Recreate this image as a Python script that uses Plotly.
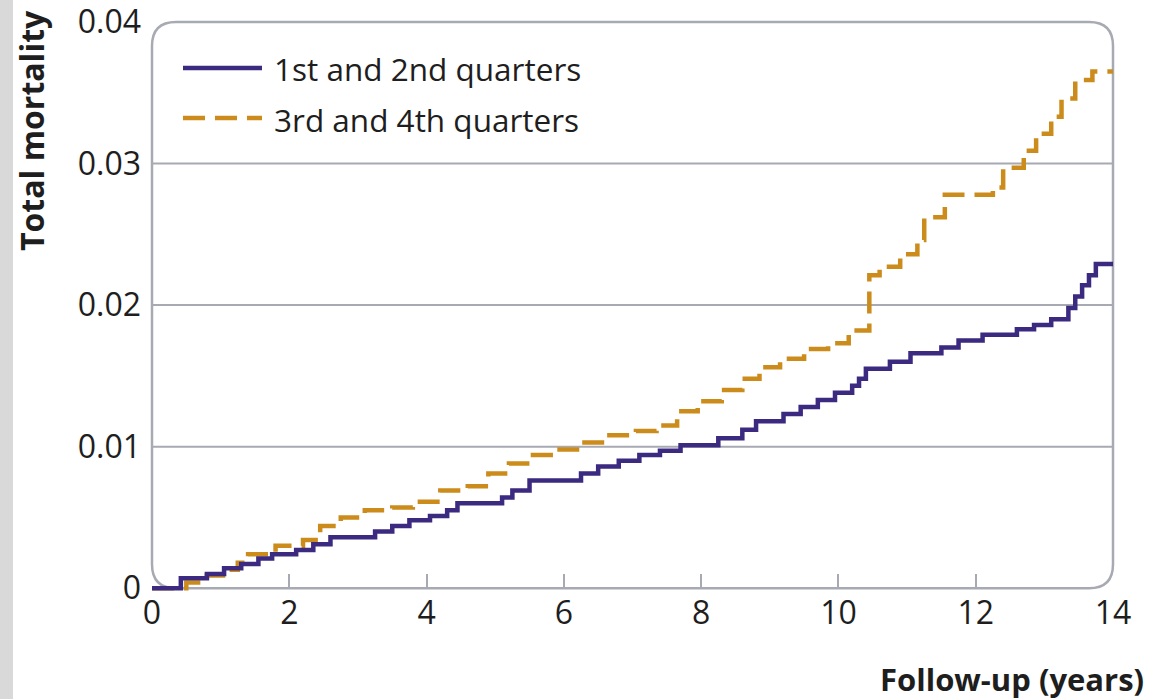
import plotly.graph_objects as go

# ---- data ----
years_q12 = [0, 0.42, 0.8, 1.05, 1.3, 1.55, 1.75, 2.1, 2.35, 2.6,
             3.25, 3.5, 3.75, 4.05, 4.3, 4.45, 5.1, 5.25, 5.5, 6.25,
             6.5, 6.8, 7.1, 7.4, 7.7, 8.25, 8.6, 8.8, 9.2, 9.45,
             9.7, 9.95, 10.2, 10.3, 10.4, 10.75, 11.05, 11.5, 11.75, 12.1,
             12.6, 12.85, 13.1, 13.35, 13.45, 13.55, 13.65, 13.75, 14]
mort_q12 = [0, 0.0007, 0.0010, 0.0014, 0.0017, 0.0021, 0.0024, 0.0027, 0.0031, 0.0036,
            0.0040, 0.0044, 0.0048, 0.0051, 0.0055, 0.0060, 0.0064, 0.0069, 0.0076, 0.0081,
            0.0086, 0.0090, 0.0094, 0.0097, 0.0101, 0.0106, 0.0112, 0.0118, 0.0123, 0.0128,
            0.0133, 0.0138, 0.0143, 0.0148, 0.0155, 0.0160, 0.0166, 0.0170, 0.0175, 0.0179,
            0.0183, 0.0186, 0.0190, 0.0198, 0.0206, 0.0214, 0.0221, 0.0229, 0.0229]

years_q34 = [0, 0.5, 0.8, 1.1, 1.25, 1.4, 1.8, 2.2, 2.45, 2.75,
             3.1, 3.5, 3.8, 4.2, 4.6, 4.9, 5.2, 5.55, 5.9, 6.25,
             6.6, 7.05, 7.35, 7.65, 7.95, 8.3, 8.6, 8.85, 9.15, 9.5,
             9.85, 10.15, 10.45, 10.6, 10.9, 11.15, 11.25, 11.55, 12.25, 12.4,
             12.7, 12.88, 13.1, 13.25, 13.45, 13.7, 14]
mort_q34 = [0, 0.0004, 0.0009, 0.0013, 0.0018, 0.0024, 0.0030, 0.0034, 0.0044, 0.0050,
            0.0055, 0.0057, 0.0061, 0.0069, 0.0072, 0.0081, 0.0088, 0.0094, 0.0098, 0.0103,
            0.0108, 0.0111, 0.0115, 0.0125, 0.0132, 0.0140, 0.0148, 0.0156, 0.0162, 0.0169,
            0.0173, 0.0182, 0.0221, 0.0227, 0.0236, 0.0246, 0.0262, 0.0278, 0.0283, 0.0297,
            0.0309, 0.0321, 0.0333, 0.0346, 0.0359, 0.0365, 0.0365]

series_names = ["1st and 2nd quarters", "3rd and 4th quarters"]
x_tickvals = [0, 2, 4, 6, 8, 10, 12, 14]
x_ticktext = ["0", "2", "4", "6", "8", "10", "12", "14"]
y_tickvals = [0, 0.01, 0.02, 0.03, 0.04]
y_ticktext = ["0", "0.01", "0.02", "0.03", "0.04"]
grid_vals = [0.01, 0.02, 0.03]
x_title = "Follow-up (years)"
y_title = "Total mortality"

# ---- style ----
PURPLE = "#3b2a80"
GOLD = "#cc8c1c"
FRAME = "#a8aab3"
TEXT = "#1e1e1e"
FONT = "Open Sans"
TICK_SIZE = 32
LEG_SIZE = 31.5

W, H = 1155, 699
ML, MR, MT, MB = 152, 42, 22, 108
PW, PH = W - ML - MR, H - MT - MB
XR = [0, 14]
YR = [-0.0002, 0.04]


def px_to_paper_x(px):
    return (px - ML) / PW


def px_to_paper_y(py):
    return (H - MB - py) / PH


def val_to_paper_y(v):
    return (v - YR[0]) / (YR[1] - YR[0])


fig = go.Figure()
fig.add_trace(go.Scatter(x=years_q34, y=mort_q34, mode="lines", name=series_names[1],
                         line=dict(shape="hv", color=GOLD, width=4.5, dash="22px,10px"),
                         xaxis="x", yaxis="y", showlegend=False))
fig.add_trace(go.Scatter(x=years_q12, y=mort_q12, mode="lines", name=series_names[0],
                         line=dict(shape="hv", color=PURPLE, width=4.5),
                         xaxis="x2", yaxis="y", showlegend=False))

# rounded frame (paper coords)
r = 24
rx, ry = r / PW, r / PH
y0p, y1p = val_to_paper_y(0), val_to_paper_y(0.04)
path = (f"M {rx},{y0p} L {1-rx},{y0p} Q 1,{y0p} 1,{y0p+ry} L 1,{y1p-ry} "
        f"Q 1,{y1p} {1-rx},{y1p} L {rx},{y1p} Q 0,{y1p} 0,{y1p-ry} "
        f"L 0,{y0p+ry} Q 0,{y0p} {rx},{y0p} Z")
shapes = [
    dict(type="rect", xref="paper", yref="paper",
         x0=px_to_paper_x(0), x1=px_to_paper_x(13),
         y0=px_to_paper_y(H), y1=px_to_paper_y(0),
         fillcolor="#d9d9d9", line=dict(width=0), layer="below"),
    dict(type="path", path=path, xref="paper", yref="paper",
         line=dict(color=FRAME, width=2.5), layer="below"),
]
for g in grid_vals:
    shapes.append(dict(type="line", xref="paper", yref="y", x0=0, x1=1, y0=g, y1=g,
                       line=dict(color=FRAME, width=2), layer="below"))

# legend samples
leg_y = [68, 118]
shapes.append(dict(type="line", xref="paper", yref="paper",
                   x0=px_to_paper_x(183), x1=px_to_paper_x(262),
                   y0=px_to_paper_y(leg_y[0]), y1=px_to_paper_y(leg_y[0]),
                   line=dict(color=PURPLE, width=4.5)))
shapes.append(dict(type="line", xref="paper", yref="paper",
                   x0=px_to_paper_x(183), x1=px_to_paper_x(262),
                   y0=px_to_paper_y(leg_y[1]), y1=px_to_paper_y(leg_y[1]),
                   line=dict(color=GOLD, width=4.5, dash="22px,10px")))

annotations = [
    dict(text=series_names[0], xref="paper", yref="paper",
         x=px_to_paper_x(272), y=px_to_paper_y(leg_y[0] + 1), xanchor="left", yanchor="middle",
         showarrow=False, font=dict(family=FONT, size=LEG_SIZE, color=TEXT)),
    dict(text=series_names[1], xref="paper", yref="paper",
         x=px_to_paper_x(272), y=px_to_paper_y(leg_y[1] + 1), xanchor="left", yanchor="middle",
         showarrow=False, font=dict(family=FONT, size=LEG_SIZE, color=TEXT)),
    dict(text=f"<b>{y_title}</b>", xref="paper", yref="paper", textangle=-90,
         x=px_to_paper_x(32), y=px_to_paper_y(131), xanchor="center", yanchor="middle",
         showarrow=False, font=dict(family=FONT, size=32, color=TEXT)),
    dict(text=f"<b>{x_title}</b>", xref="paper", yref="paper",
         x=px_to_paper_x(1146), y=px_to_paper_y(679), xanchor="right", yanchor="middle",
         showarrow=False, font=dict(family=FONT, size=31, color=TEXT)),
]

fig.update_layout(
    width=W, height=H,
    margin=dict(l=ML, r=MR, t=MT, b=MB, pad=0, autoexpand=False),
    paper_bgcolor="white", plot_bgcolor="white",
    showlegend=False,
    font=dict(family=FONT, color=TEXT),
    xaxis=dict(range=XR, tickvals=x_tickvals, ticktext=x_ticktext, ticks="",
               showgrid=False, zeroline=False, showline=False, automargin=False,
               ticklabeloverflow="allow",
               tickfont=dict(family=FONT, size=TICK_SIZE, color=TEXT)),
    xaxis2=dict(matches="x", overlaying="x", anchor="free", position=val_to_paper_y(0),
                side="bottom", tickvals=x_tickvals[1:-1], ticks="inside", ticklen=14,
                tickwidth=2, tickcolor=FRAME, showticklabels=False, automargin=False,
                showgrid=False, zeroline=False, showline=False),
    yaxis=dict(range=YR, tickvals=y_tickvals, ticktext=y_ticktext, ticks="",
               showgrid=False, zeroline=False, showline=False, automargin=False,
               ticklabelstandoff=10, ticklabeloverflow="allow",
               tickfont=dict(family=FONT, size=TICK_SIZE, color=TEXT)),
    shapes=shapes,
    annotations=annotations,
)

fig.write_html("out.html", config={"displayModeBar": False},
               post_script="document.body.style.margin='0';document.body.style.overflow='hidden';")
